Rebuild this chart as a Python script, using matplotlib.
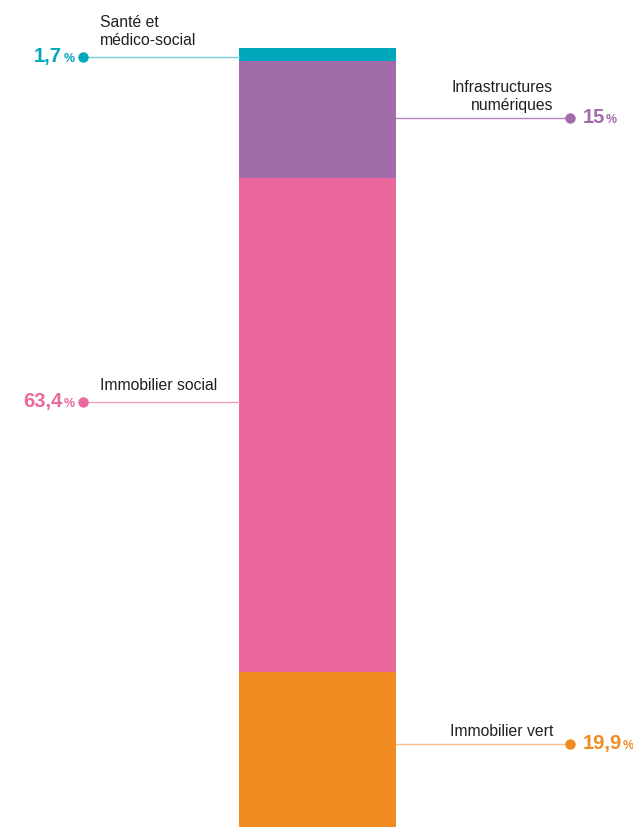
import matplotlib
matplotlib.use('Agg')
import matplotlib.pyplot as plt

# data (percent shares, bottom to top)
categories = ["Immobilier vert", "Immobilier social",
              "Infrastructures\nnumériques", "Santé et\nmédico-social"]
shares = [19.9, 63.4, 15, 1.7]
value_labels = ["19,9", "63,4", "15", "1,7"]

colors = ["#F18C22", "#EB689C", "#A26BAA", "#00A8BE"]
leader_colors = ["#F9C08A", "#F29DC0", "#B583BE", "#74CFD9"]
sides = ["right", "left", "right", "left"]
# leader line height in pixels from the top of the picture (layout only)
leader_px = [744, 402, 118, 57]

W, H = 633, 827
PX_PER_UNIT = 7.79

plt.rcParams['font.family'] = ['Liberation Sans', 'DejaVu Sans']
fig = plt.figure(figsize=(W / 100, H / 100), dpi=100)
ax = fig.add_axes([0, 0, 1, 1])
ax.set_xlim(0, W)
ax.set_ylim(0, H / PX_PER_UNIT)
ax.axis('off')

bar_x, bar_w = 317.5, 157
bottom = 0
for val, col in zip(shares, colors):
    ax.bar(bar_x, val, bottom=bottom, width=bar_w, color=col, linewidth=0)
    bottom += val


def py(px):
    return (H - px) / PX_PER_UNIT


text_col = "#231F20"
for cat, lab, col, lcol, side, lp in zip(categories, value_labels, colors,
                                          leader_colors, sides, leader_px):
    y = py(lp)
    if side == "left":
        x0, x1 = 83, bar_x - bar_w / 2
        ax.plot([x0, x1], [y, y], color=lcol, lw=1.0, zorder=1)
        ax.plot(x0, y, 'o', color=col, ms=7.5, mec='none', zorder=2)
        ax.text(75, py(lp + 5), "%", color=col, fontsize=9,
                fontweight='bold', ha='right', va='baseline')
        ax.text(62, py(lp + 5), lab, color=col, fontsize=14.5,
                fontweight='bold', ha='right', va='baseline')
        ax.text(100, py(lp - 12), cat, color=text_col,
                fontsize=11.3, ha='left', va='baseline', linespacing=1.22)
    else:
        x0, x1 = bar_x + bar_w / 2, 570
        ax.plot([x0, x1], [y, y], color=lcol, lw=1.0, zorder=1)
        ax.plot(x1, y, 'o', color=col, ms=7.5, mec='none', zorder=2)
        t = ax.text(583, py(lp + 5), lab, color=col, fontsize=14.5,
                    fontweight='bold', ha='left', va='baseline')
        ax.annotate("%", xy=(1, 0), xycoords=t, xytext=(0.5, 1),
                    textcoords='offset points', color=col, fontsize=9,
                    fontweight='bold', ha='left', va='bottom')
        ax.text(553, py(lp - 8), cat, color=text_col,
                fontsize=11.3, ha='right', va='baseline', linespacing=1.22)

fig.savefig("out.png", dpi=100)
